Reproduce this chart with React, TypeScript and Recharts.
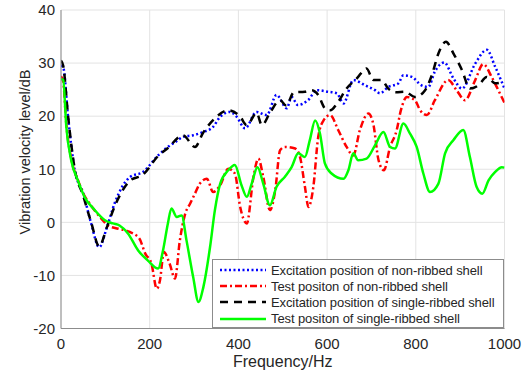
import { LineChart, Line, XAxis, YAxis, CartesianGrid, Label } from "recharts";

const FONT = '"Liberation Sans", Arial, Helvetica, sans-serif';
const TEXT = "#262626";
const AXIS = "#8c8c8c";

const xTicks = [0, 200, 400, 600, 800, 1000];
const yTicks = [-20, -10, 0, 10, 20, 30, 40];

const seriesNames = [
  "Excitation position of non-ribbed shell",
  "Test positon of non-ribbed shell",
  "Excitation position of single-ribbed shell",
  "Test positon of single-ribbed shell",
];

// excitation, non-ribbed (blue dotted)
const excNonFreq = [0, 5, 16, 31, 50, 68, 86, 104, 121, 155, 185, 219, 241, 259, 275, 298, 320, 343, 359, 381, 396, 415, 441, 464, 486, 509, 520, 534, 557, 577, 602, 622, 637, 659, 686, 708, 719, 738, 761, 772, 791, 813, 828, 843, 864, 885, 904, 934, 960, 979, 1000];
const excNonLevel = [29.5, 29.2, 19.8, 9.8, 5.5, -0.2, -4.7, -0.8, 3.6, 8.5, 9.5, 12.6, 14.2, 15.2, 16.1, 16.4, 17.0, 18.0, 19.9, 20.8, 19.9, 17.7, 20.8, 20.2, 24.0, 21.5, 23.6, 22.1, 23.0, 24.9, 24.6, 24.3, 22.4, 26.8, 25.8, 24.9, 24.3, 25.5, 26.2, 27.7, 27.4, 25.8, 25.5, 28.4, 30.1, 27.1, 25.2, 29.9, 32.5, 29.3, 25.2];

// test point, non-ribbed (red dash-dot)
const testNonFreq = [0, 5, 12, 23, 38, 53, 65, 91, 106, 129, 155, 177, 190, 204, 216, 223, 232, 245, 257, 268, 280, 291, 302, 313, 329, 343, 359, 377, 392, 404, 419, 434, 445, 456, 471, 483, 494, 505, 528, 539, 550, 558, 569, 580, 592, 607, 625, 644, 659, 674, 693, 704, 716, 728, 742, 757, 766, 780, 798, 810, 825, 843, 873, 892, 911, 934, 952, 971, 986, 1000];
const testNonLevel = [27.5, 26.5, 18.5, 12, 8, 5, 3.5, 0.7, -0.6, -1.2, -1.8, -3.1, -5.9, -7.8, -12.5, -11, -5.6, -7.8, -10.6, -3.4, 1.6, 3.5, 5.4, 7.3, 8.2, 5.7, 7.0, 10.1, 9.2, 2.9, -0.2, 8.6, 12.0, 8.6, 2.3, 6.0, 13.6, 14.2, 13.9, 12.3, 6.7, 2.9, 6.7, 16.1, 19.2, 20.2, 17.4, 14.2, 12.6, 17.4, 20.5, 18.6, 11.7, 9.8, 14.2, 17.4, 21.0, 23.6, 23.0, 21.1, 20.2, 23.0, 26.8, 24.9, 23.0, 26.8, 29.8, 27.4, 24.9, 22.5];

// excitation, single-ribbed (black dashed)
const excRibFreq = [0, 5, 16, 31, 50, 68, 86, 104, 121, 155, 185, 219, 241, 275, 302, 320, 347, 377, 404, 419, 441, 453, 471, 494, 508, 525, 550, 565, 580, 595, 607, 625, 644, 667, 689, 704, 723, 738, 755, 776, 798, 821, 836, 851, 868, 885, 904, 922, 941, 960, 979, 1000];
const excRibLevel = [30.5, 29.5, 20, 10, 5, 0, -4.5, -0.8, 3, 7.8, 9.0, 12.5, 14, 16.4, 14.2, 16.8, 19.6, 21.1, 19.9, 18.3, 20.6, 18.3, 20.6, 23.0, 22.0, 24.5, 24.6, 24.9, 24.0, 21.5, 21.1, 22.7, 25.2, 27.1, 29.0, 26.8, 26.8, 25.2, 24.5, 24.6, 23.6, 24.9, 27.7, 31.8, 34.0, 31.8, 28.7, 25.2, 25.8, 27.4, 26.2, 26.5];

// test point, single-ribbed (green solid)
const testRibFreq = [0, 5, 12, 23, 38, 53, 76, 99, 117, 132, 151, 174, 196, 219, 230, 241, 249, 261, 272, 283, 298, 310, 321, 336, 347, 359, 377, 392, 407, 419, 430, 443, 456, 471, 486, 505, 520, 535, 550, 561, 573, 584, 595, 610, 637, 648, 659, 670, 689, 708, 727, 742, 753, 772, 787, 802, 817, 832, 851, 866, 885, 907, 922, 937, 950, 964, 979, 994, 1000];
const testRibLevel = [27, 26.8, 18, 11.7, 7.9, 4.8, 2.3, 0.4, -0.2, -0.6, -2.1, -5.3, -7.2, -8.7, -5.3, -0.2, 2.6, 1.0, 1.3, -3.4, -10.3, -15.0, -12.2, -4.7, 2.3, 7.3, 9.8, 10.8, 7.0, 4.8, 7.3, 10.4, 7.3, 3.2, 6.7, 8.6, 10.4, 13.0, 12.3, 15.5, 19.2, 16.7, 11.1, 9.2, 8.2, 9.8, 13.0, 11.7, 12.0, 14.5, 17.0, 14.2, 13.9, 18.6, 16.7, 14.2, 9.2, 5.7, 7.3, 13.0, 15.5, 17.4, 12.3, 6.7, 5.4, 7.9, 9.5, 10.4, 10.3];

const toPoints = (freq: number[], level: number[]) =>
  freq.map((f, i) => ({ f, v: level[i] }));

const SERIES = [
  { name: seriesNames[0], data: toPoints(excNonFreq, excNonLevel), color: "#0000ff", dash: "2 2.5" },
  { name: seriesNames[1], data: toPoints(testNonFreq, testNonLevel), color: "#ff0000", dash: "7 3 2 3" },
  { name: seriesNames[2], data: toPoints(excRibFreq, excRibLevel), color: "#000000", dash: "8 6" },
  { name: seriesNames[3], data: toPoints(testRibFreq, testRibLevel), color: "#00ff00", dash: undefined },
];

function LegendBox() {
  return (
    <div
      style={{
        position: "absolute",
        left: 212,
        top: 259,
        width: 292,
        height: 69,
        boxSizing: "border-box",
        border: `1px solid ${AXIS}`,
        background: "#fff",
        paddingTop: 2,
        fontFamily: FONT,
        fontSize: 13,
        color: TEXT,
      }}
    >
      {SERIES.map(s => (
        <div key={s.name} style={{ display: "flex", alignItems: "center", height: 16.2, whiteSpace: "nowrap" }}>
          <svg width={58} height={12} style={{ flex: "none" }}>
            <line x1={7} y1={6} x2={53} y2={6} stroke={s.color} strokeWidth={2.5} strokeDasharray={s.dash} />
          </svg>
          <span style={{ letterSpacing: -0.1 }}>{s.name}</span>
        </div>
      ))}
    </div>
  );
}

export default function App() {
  return (
    <div style={{ position: "absolute", left: 0, top: 0, width: 529, height: 373, background: "#fff" }}>
      <LineChart
        width={529}
        height={373}
        margin={{ top: 10, right: 24.5, bottom: 14.5, left: 21 }}
        style={{ fontFamily: FONT }}
      >
        <CartesianGrid stroke="#e3e3e3" strokeWidth={1} />
        <XAxis
          dataKey="f"
          type="number"
          domain={[0, 1000]}
          ticks={xTicks}
          allowDataOverflow
          height={30}
          tickLine={false}
          tickSize={6}
          tickMargin={4}
          axisLine={{ stroke: AXIS }}
          tick={{ fontSize: 15, fill: TEXT, fontFamily: FONT }}
        >
          <Label value="Frequency/Hz" position="bottom" offset={-2.5} style={{ fontSize: 16, fill: TEXT, fontFamily: FONT }} />
        </XAxis>
        <XAxis xAxisId="top" orientation="top" type="number" domain={[0, 1000]} height={0} tick={false} tickLine={false} axisLine={{ stroke: AXIS }} />
        <YAxis
          type="number"
          domain={[-20, 40]}
          ticks={yTicks}
          allowDataOverflow
          width={40}
          tickLine={false}
          tickSize={6}
          tickMargin={0}
          axisLine={{ stroke: AXIS }}
          tick={{ fontSize: 15, fill: TEXT, fontFamily: FONT }}
        >
          <Label
            content={() => (
              <text
                x={25}
                y={152}
                transform="rotate(-90 25 152)"
                textAnchor="middle"
                dominantBaseline="central"
                fontSize={14.5}
                fill={TEXT}
                fontFamily={FONT}
              >
                Vibration velocity level/dB
              </text>
            )}
          />
        </YAxis>
        <YAxis yAxisId="right" orientation="right" type="number" domain={[-20, 40]} width={0} tick={false} tickLine={false} axisLine={{ stroke: AXIS }} />
        {SERIES.map(s => (
          <Line
            key={s.name}
            data={s.data}
            dataKey="v"
            name={s.name}
            type="monotone"
            stroke={s.color}
            strokeWidth={2.5}
            strokeDasharray={s.dash}
            dot={false}
            activeDot={false}
            isAnimationActive={false}
          />
        ))}
      </LineChart>
      <LegendBox />
    </div>
  );
}
